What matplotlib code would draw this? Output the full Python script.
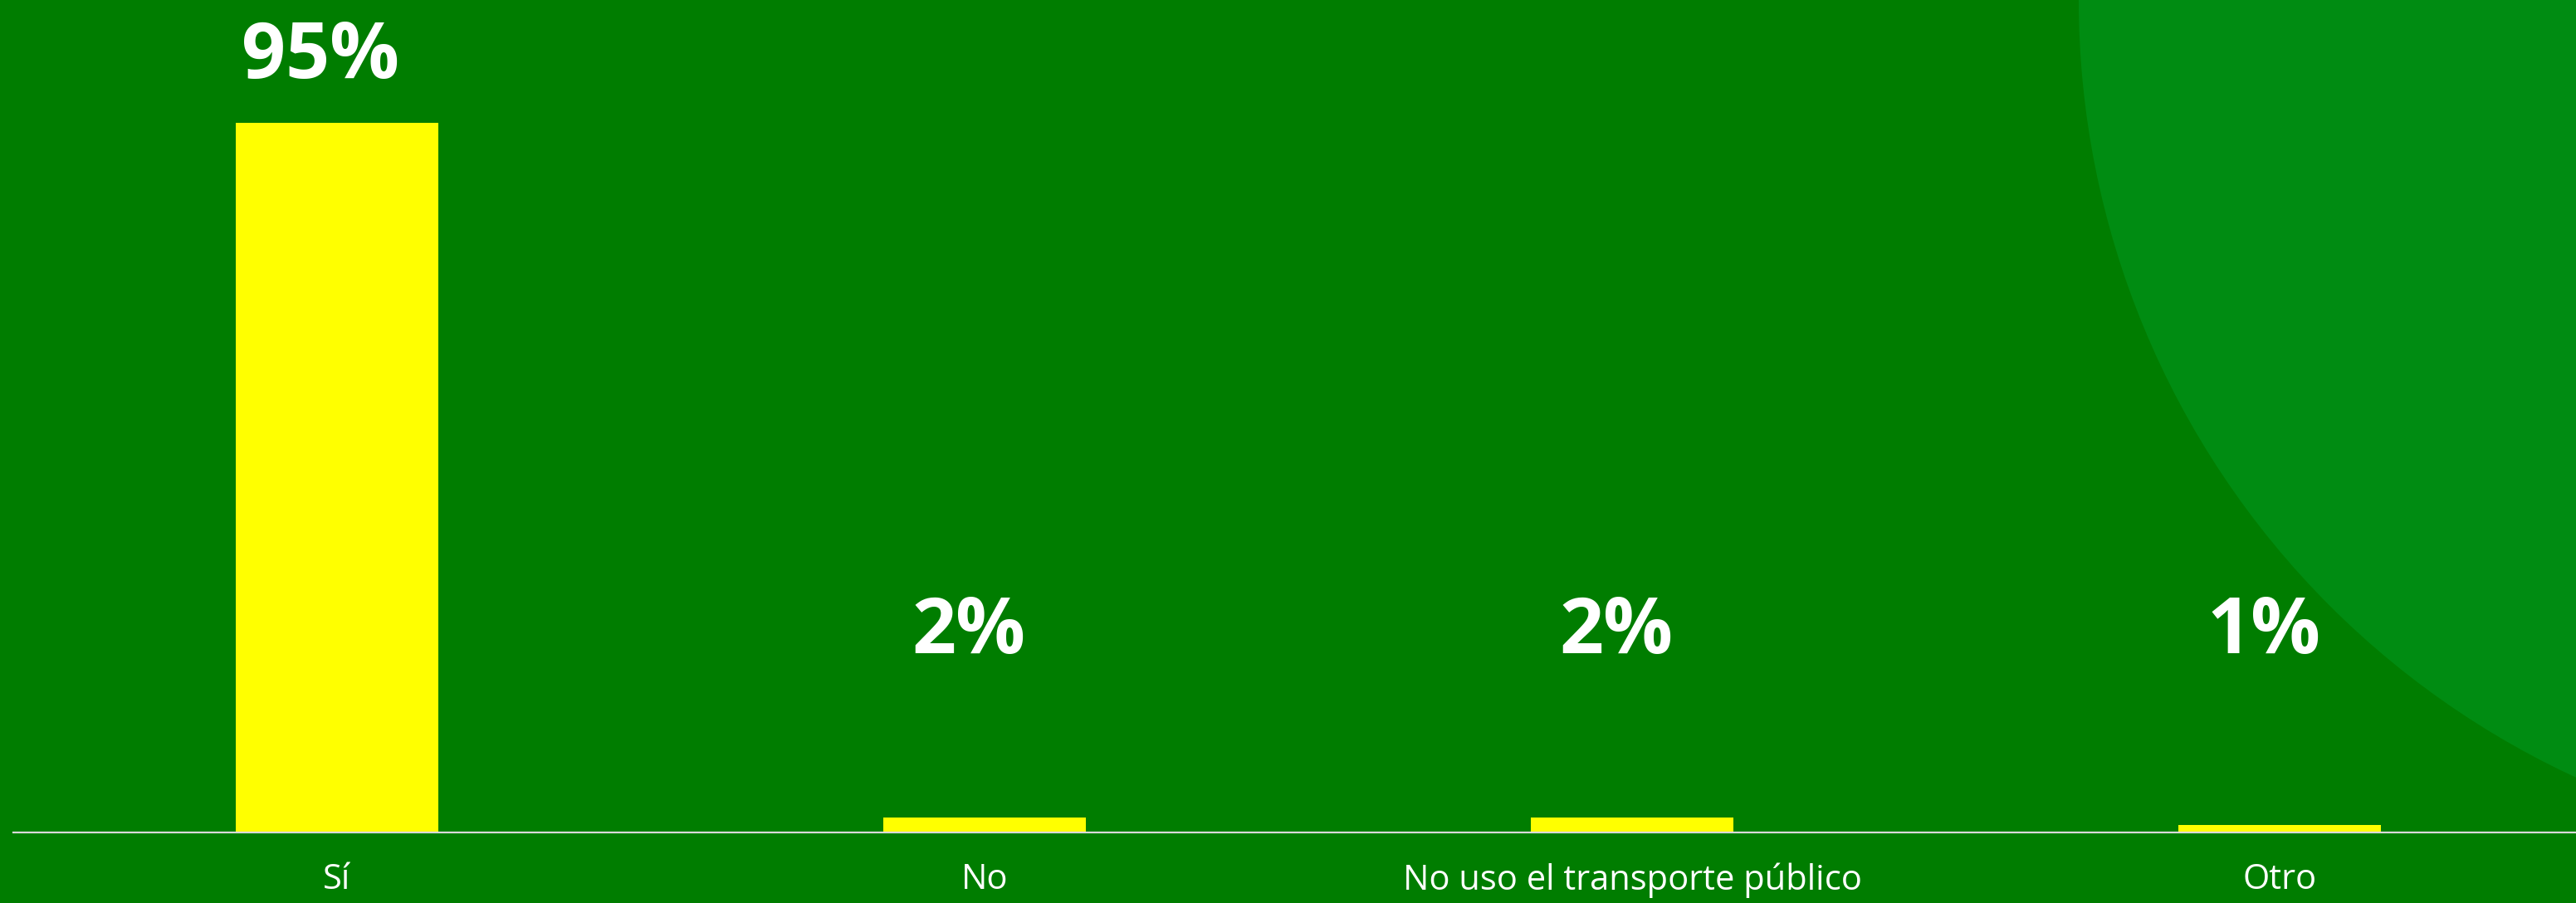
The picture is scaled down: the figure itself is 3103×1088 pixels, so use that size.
import matplotlib
matplotlib.use("Agg")
import matplotlib.pyplot as plt
from matplotlib.patches import Circle

categories = ["Sí", "No", "No uso el transporte público", "Otro"]
values = [95, 2, 2, 1]
labels = ["95%", "2%", "2%", "1%"]

bg = "#007D00"
circle_color = "#008C12"
bar_color = "#FFFF00"

W, H = 3103, 1088
fig = plt.figure(figsize=(W / 100, H / 100), dpi=100, facecolor=bg)

# background decoration
bg_ax = fig.add_axes([0, 0, 1, 1], zorder=0)
bg_ax.set_xlim(0, W)
bg_ax.set_ylim(H, 0)
bg_ax.axis("off")
bg_ax.set_facecolor(bg)
bg_ax.add_patch(Circle((3536, 0), 1032, color=circle_color, lw=0))

# main chart
left = 16 / W
right = 3136 / W
bottom = (H - 1003) / H
height = 990 / H
ax = fig.add_axes([left, bottom, right - left, height], zorder=1)
ax.patch.set_alpha(0)

x = range(len(categories))
ax.bar(x, values, width=0.314, color=bar_color, zorder=2)
ax.set_xlim(-0.5, len(categories) - 0.5)
ax.set_ylim(0, 110)

for xi, v, lab in zip(x, values, labels):
    ax.text(xi - 0.025, max(v + 6, 24), lab, ha="center", va="baseline",
            color="white", fontsize=67, fontweight="bold", family="Open Sans")

ax.set_xticks(list(x))
ax.set_xticklabels(categories, color="white", fontsize=30, family="Open Sans")
ax.tick_params(axis="x", length=0, pad=26)
ax.set_yticks([])
for s in ["top", "left", "right"]:
    ax.spines[s].set_visible(False)
ax.spines["bottom"].set_color("#D9D9D9")
ax.spines["bottom"].set_linewidth(1.6)

fig.savefig("out.png", dpi=100, facecolor=bg)
